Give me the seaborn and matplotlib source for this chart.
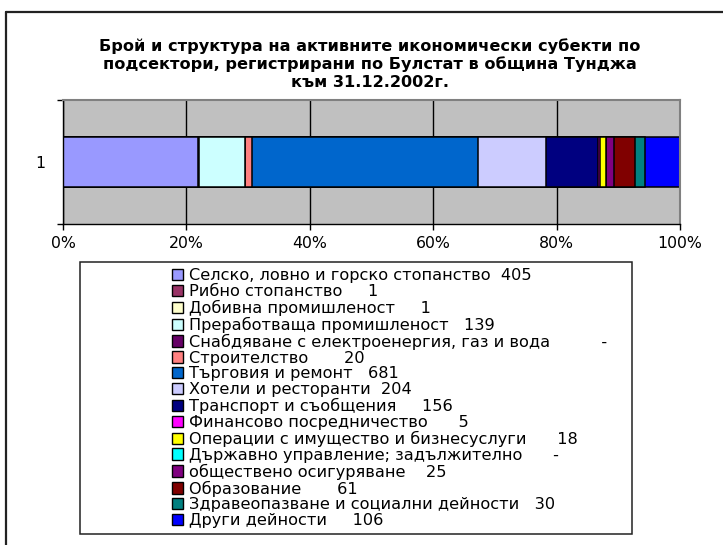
import matplotlib
matplotlib.use("Agg")
import matplotlib.pyplot as plt
import seaborn as sns
import numpy as np
import pandas as pd
from matplotlib.patches import Patch, Rectangle
from matplotlib.lines import Line2D

# ---------------- data ----------------
sectors = [
    "Селско, ловно и горско стопанство",
    "Рибно стопанство",
    "Добивна промишленост",
    "Преработваща промишленост",
    "Снабдяване с електроенергия, газ и вода",
    "Строителство",
    "Търговия и ремонт",
    "Хотели и ресторанти",
    "Транспорт и съобщения",
    "Финансово посредничество",
    "Операции с имущество и бизнесуслуги",
    "Държавно управление; задължително",
    "обществено осигуряване",
    "Образование",
    "Здравеопазване и социални дейности",
    "Други дейности",
]
counts = [405, 1, 1, 139, 0, 20, 681, 204, 156, 5, 18, 0, 25, 61, 30, 106]
count_labels = ["405", "1", "1", "139", "-", "20", "681", "204", "156",
                "5", "18", "-", "25", "61", "30", "106"]
category = ["1"]
pct_ticks = [0, 20, 40, 60, 80, 100]

# styles (Excel palette)
colors = ["#9999FF", "#993366", "#FFFFCC", "#CCFFFF", "#660066", "#FF8080",
          "#0066CC", "#CCCCFF", "#000080", "#FF00FF", "#FFFF00", "#00FFFF",
          "#800080", "#800000", "#008080", "#0000FF"]
gaps = [2, 5, 5, 3, 10, 7, 3, 2, 5, 6, 6, 6, 4, 7, 3, 5]

title = ("Брой и структура на активните икономически субекти по\n"
         "подсектори, регистрирани по Булстат в община Тунджа\n"
         "към 31.12.2002г.")

# ---------------- prep ----------------
df = pd.DataFrame({"sector": sectors, "count": counts})
df["cum_pct"] = df["count"].cumsum() / df["count"].sum() * 100

sns.set_style("white")
plt.rcParams["font.family"] = ["DejaVu Sans"]
plt.rcParams["text.color"] = "black"
plt.rcParams["xtick.color"] = "black"
plt.rcParams["ytick.color"] = "black"

W, H = 723, 545
fig = plt.figure(figsize=(W / 100, H / 100), dpi=100)
ax = fig.add_axes([63 / W, 1 - 224 / H, 617 / W, 124 / H])

# stacked bar: draw cumulative totals from last to first so each covers the next
for i in reversed(range(len(df))):
    sns.barplot(x=[df["cum_pct"][i]], y=category, color=colors[i],
                edgecolor="black", linewidth=1.1, width=0.4,
                saturation=1, ax=ax)

ax.set_xlim(0, 100)
ax.set_ylim(0.5, -0.5)
ax.set_facecolor("#C0C0C0")
ax.set_xticks(pct_ticks)
ax.set_xticklabels([f"{t}%" for t in pct_ticks], fontsize=11.3)
ax.xaxis.grid(True, color="black", linewidth=1)
ax.yaxis.grid(False)
ax.set_axisbelow(True)
ax.tick_params(axis="x", direction="out", length=4, width=1, color="black",
               labelcolor="black", pad=5, bottom=True)
ax.set_yticks([0])
ax.set_yticklabels(category, fontsize=11.3)
ax.set_yticks([-0.5, 0.5], minor=True)
ax.tick_params(axis="y", which="major", length=0, pad=13, left=True,
               labelcolor="black")
ax.tick_params(axis="y", which="minor", length=4, width=1, color="black",
               direction="out", left=True)
ax.set_xlabel("")
ax.set_ylabel("")
for s in ["left", "bottom"]:
    ax.spines[s].set_color("black")
    ax.spines[s].set_linewidth(1)
for s in ["top", "right"]:
    ax.spines[s].set_color("#808080")
    ax.spines[s].set_linewidth(1.5)

# title
fig.text(370 / W, 1 - 64 / H, title, ha="center", va="center", color="black",
         fontsize=11.6, fontweight="bold", linespacing=1.2)

# outer chart border (cut on right/bottom)
fig.add_artist(Line2D([6 / W, 1], [1 - 12 / H, 1 - 12 / H],
                      transform=fig.transFigure, color="#222222", lw=1.6))
fig.add_artist(Line2D([6 / W, 6 / W], [0, 1 - 12 / H],
                      transform=fig.transFigure, color="#222222", lw=1.6))

# legend box
fig.add_artist(Rectangle((80 / W, 1 - 534 / H), 552 / W, 272 / H,
                         transform=fig.transFigure, fill=False,
                         edgecolor="#222222", lw=1.1))

handles = [Patch(facecolor=c, edgecolor="black", linewidth=1) for c in colors]
labels = [f"{s}{' ' * g}{v}" for s, g, v in zip(sectors, gaps, count_labels)]
leg = fig.legend(handles, labels, loc="upper left",
                 bbox_to_anchor=(164 / W, 1 - 260 / H),
                 bbox_transform=fig.transFigure, frameon=False, borderpad=0,
                 fontsize=11.6, labelspacing=0.05, handlelength=0.7,
                 handleheight=0.7, handletextpad=0.35)
for t in leg.get_texts():
    t.set_color("black")

fig.savefig("out.png", dpi=100)
